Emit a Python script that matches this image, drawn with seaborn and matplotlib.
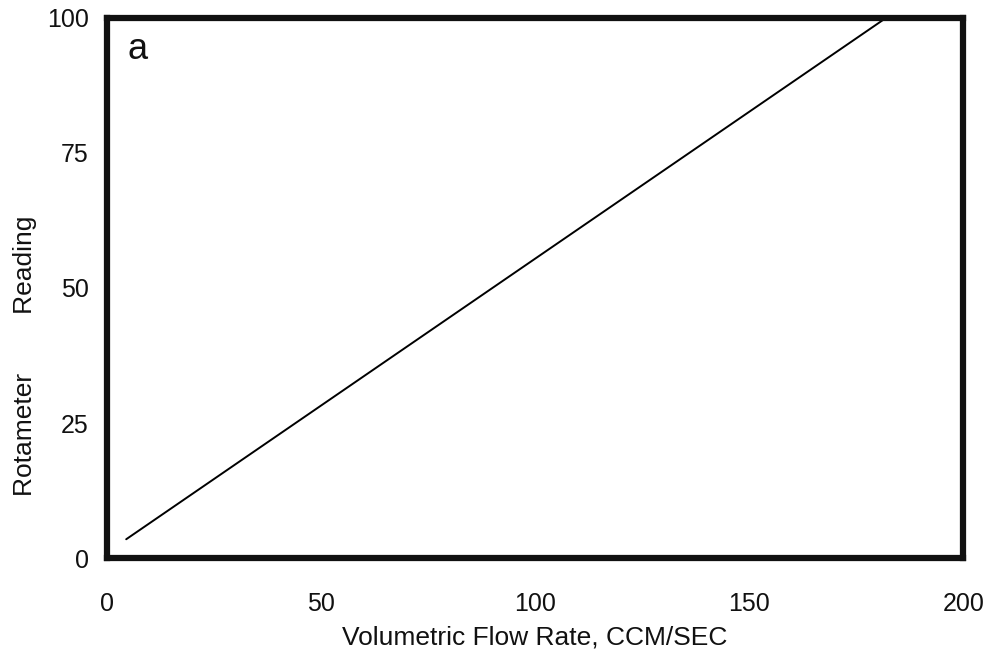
import matplotlib
matplotlib.use("Agg")
import matplotlib.pyplot as plt
import seaborn as sns
import pandas as pd

# calibration line
flow_rate = [4.5, 182]
reading = [3.5, 100]
x_ticks = [0, 50, 100, 150, 200]
y_ticks = [0, 25, 50, 75, 100]

sns.set_style("white")
plt.rcParams['font.family'] = ['Liberation Sans', 'DejaVu Sans']

df = pd.DataFrame({"flow": flow_rate, "reading": reading})

fig = plt.figure(figsize=(9.9, 6.59), dpi=100)
ax = fig.add_axes([0.108, 0.153, 0.865, 0.82])

sns.lineplot(data=df, x="flow", y="reading", color="black", linewidth=1.4, ax=ax)

ax.set_xlim(0, 200)
ax.set_ylim(0, 100)
ax.set_xticks(x_ticks)
ax.set_yticks(y_ticks)
ax.set_xticklabels([str(t) for t in x_ticks])
ax.set_yticklabels([str(t) for t in y_ticks])

for sp in ax.spines.values():
    sp.set_visible(True)
    sp.set_linewidth(4.5)
    sp.set_color("#111111")

ax.tick_params(axis="x", direction="in", length=5, width=3, pad=24, labelsize=18, colors="#111111")
ax.tick_params(axis="y", direction="in", length=5, width=3, pad=13, labelsize=18, colors="#111111")

ax.set_xlabel("Volumetric Flow Rate, CCM/SEC", fontsize=19, labelpad=7, color="#111111")
ax.set_ylabel("Rotameter        Reading", fontsize=19, color="#111111")
ax.yaxis.set_label_coords(-0.082, 0.374)

ax.text(0.036, 0.941, "a", transform=ax.transAxes, fontsize=26, ha="center", va="center", color="#111111")

fig.savefig("out.png", dpi=100)
